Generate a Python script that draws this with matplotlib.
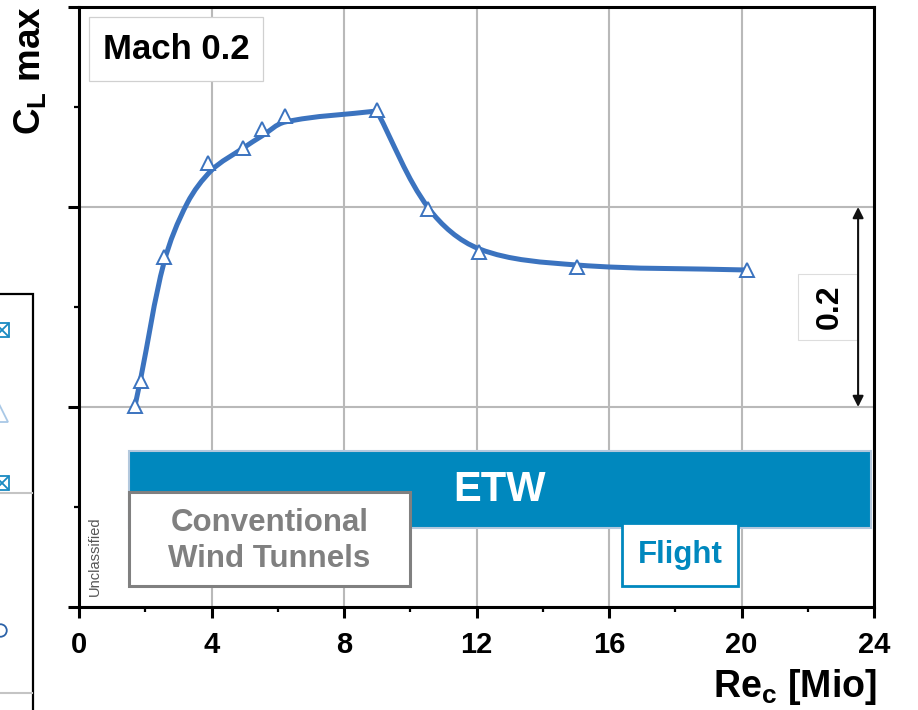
import numpy as np
import matplotlib
matplotlib.use('Agg')
import matplotlib.pyplot as plt
from matplotlib.path import Path
from matplotlib.patches import PathPatch, Rectangle
from matplotlib.lines import Line2D
from matplotlib.ticker import MultipleLocator, FixedLocator

plt.rcParams['font.family'] = ['Liberation Sans', 'DejaVu Sans']

# ---------------- data ----------------
# measured points (markers)
re_mio = [1.69, 1.86, 2.57, 3.90, 4.96, 5.52, 6.22, 8.99, 10.55, 12.09, 15.03, 20.16]
cl_max = [1.201, 1.226, 1.350, 1.444, 1.459, 1.478, 1.491, 1.497, 1.398, 1.355, 1.340, 1.337]
trend_re = [1.69, 1.86, 2.57, 3.27, 4.01, 4.96, 5.52, 6.22, 8.99, 10.55, 12.09, 15.03, 20.16]
trend_cl = [1.201, 1.228, 1.345, 1.404, 1.437, 1.459, 1.471, 1.485, 1.496, 1.399, 1.358, 1.342, 1.337]
trend_peak_index = 8

x_ticks = [0, 4, 8, 12, 16, 20, 24]
x_tick_labels = ['0', '4', '8', '12', '16', '20', '24']
y_major = [1.0, 1.2, 1.4, 1.6]
y_minor = [1.1, 1.3, 1.5]

etw_range = (1.5, 23.9, 1.079, 1.156)       # x0, x1, y0, y1
conv_range = (1.5, 10.0, 1.021, 1.115)
flight_range = (16.4, 19.9, 1.021, 1.084)
mach_box = (0.30, 5.55, 1.526, 1.590)
delta_box = (21.71, 23.49, 1.267, 1.333)
delta_x = 23.52
delta_span = (1.2, 1.4)

BLUE_LINE = '#3B73BF'
ETW_BLUE = '#0088BE'
GRAY = '#808080'

W, H = 918, 710
fig = plt.figure(figsize=(W / 100, H / 100), dpi=100)
ax = fig.add_axes([79 / W, 1 - 607 / H, (874 - 79) / W, (607 - 7) / H])

ax.set_xlim(0, 24)
ax.set_ylim(1.0, 1.6)
ax.xaxis.set_major_locator(FixedLocator(x_ticks))
ax.set_xticklabels(x_tick_labels)
ax.xaxis.set_minor_locator(MultipleLocator(2))
ax.yaxis.set_major_locator(FixedLocator(y_major))
ax.yaxis.set_minor_locator(FixedLocator(y_minor))
ax.set_yticklabels([])

for s in ax.spines.values():
    s.set_linewidth(2.2)
    s.set_color('black')
ax.tick_params(which='major', direction='out', length=8, width=2.2, color='black')
ax.tick_params(which='minor', direction='out', length=3.6, width=1.6, color='black')
ax.tick_params(axis='x', which='major', labelsize=21, pad=9)
for lab in ax.get_xticklabels():
    lab.set_fontweight('bold')
ax.tick_params(axis='y', which='both', right=False, top=False)
ax.tick_params(axis='x', which='both', top=False)

ax.grid(True, which='major', color='#b9b9b9', linewidth=1.5)
ax.set_axisbelow(True)


def smooth_path(xs, ys):
    """Bezier smoothing computed in screen space (tangent = neighbour chord,
    handle length = 1/3 of the adjacent segment)."""
    data = np.column_stack([xs, ys])
    pts = ax.transData.transform(data)
    n = len(pts)
    tang = np.zeros_like(pts)
    for i in range(n):
        a = pts[i - 1] if i > 0 else pts[i]
        b = pts[i + 1] if i < n - 1 else pts[i]
        d = b - a
        tang[i] = d / np.hypot(*d)
    verts = [pts[0]]
    codes = [Path.MOVETO]
    for i in range(n - 1):
        L = np.hypot(*(pts[i + 1] - pts[i]))
        c1 = pts[i] + tang[i] * L / 3.0
        c2 = pts[i + 1] - tang[i + 1] * L / 3.0
        verts += [c1, c2, pts[i + 1]]
        codes += [Path.CURVE4] * 3
    verts = ax.transData.inverted().transform(np.array(verts))
    return Path(verts, codes)


for seg in (slice(0, trend_peak_index + 1), slice(trend_peak_index, None)):
    p = smooth_path(trend_re[seg], trend_cl[seg])
    ax.add_patch(PathPatch(p, facecolor='none', edgecolor=BLUE_LINE, lw=3.6,
                           capstyle='round', joinstyle='round', zorder=4))
ax.plot(re_mio, cl_max, linestyle='none', marker='^', markersize=10.5,
        markerfacecolor='white', markeredgecolor=BLUE_LINE, markeredgewidth=1.4,
        zorder=5, clip_on=False)

# ---------------- bands ----------------
x0, x1, y0, y1 = etw_range
ax.add_patch(Rectangle((x0, y0), x1 - x0, y1 - y0, facecolor=ETW_BLUE,
                       edgecolor='#b3c8dd', lw=1.5, zorder=3))
ax.text((x0 + x1) / 2, (y0 + y1) / 2, 'ETW', color='white', fontsize=30,
        fontweight='bold', ha='center', va='center', zorder=6)

x0, x1, y0, y1 = conv_range
ax.add_patch(Rectangle((x0, y0), x1 - x0, y1 - y0, facecolor='white',
                       edgecolor=GRAY, lw=2.2, zorder=6))
ax.text((x0 + x1) / 2, (y0 + y1) / 2 - 0.002, 'Conventional\nWind Tunnels', color=GRAY,
        fontsize=22.5, fontweight='bold', ha='center', va='center',
        linespacing=1.25, zorder=7)

x0, x1, y0, y1 = flight_range
ax.add_patch(Rectangle((x0, y0), x1 - x0, y1 - y0, facecolor='white',
                       edgecolor=ETW_BLUE, lw=2.0, zorder=6))
ax.text((x0 + x1) / 2, (y0 + y1) / 2, 'Flight', color=ETW_BLUE,
        fontsize=22.5, fontweight='bold', ha='center', va='center', zorder=7)

# Mach box
x0, x1, y0, y1 = mach_box
ax.add_patch(Rectangle((x0, y0), x1 - x0, y1 - y0, facecolor='white',
                       edgecolor='#d0d0d0', lw=0.9, zorder=6))
ax.text((x0 + x1) / 2, (y0 + y1) / 2, 'Mach 0.2', color='black',
        fontsize=25, fontweight='bold', ha='center', va='center', zorder=7)

# delta 0.2 annotation
x0, x1, y0, y1 = delta_box
ax.add_patch(Rectangle((x0, y0), x1 - x0, y1 - y0, facecolor='white',
                       edgecolor='#dddddd', lw=0.8, zorder=6))
ax.text((x0 + x1) / 2 + 0.05, (y0 + y1) / 2, '0.2', color='black', rotation=90,
        fontsize=23, fontweight='bold', ha='center', va='center', zorder=7)
ax.annotate('', xy=(delta_x, delta_span[1]), xytext=(delta_x, delta_span[0]),
            arrowprops=dict(arrowstyle='<|-|>', color='#111111', lw=1.5,
                            shrinkA=0, shrinkB=0, mutation_scale=16),
            zorder=7)

# Unclassified marking
fig.text(95 / W, 1 - 596 / H, 'Unclassified', rotation=90, fontsize=10.5,
         color='#555555', ha='center', va='bottom')

# axis labels
fig.text(31 / W, 1 - 6 / H, r'C$_\mathregular{L}$ max', rotation=90, fontsize=26.5,
         fontweight='bold', ha='center', va='top')
fig.text(877 / W, 1 - 697 / H, r'Re$_\mathregular{c}$ [Mio]', fontsize=27,
         fontweight='bold', ha='right', va='baseline')

# ---------------- clipped legend at the left edge ----------------
fig.add_artist(Rectangle((-10 / W, -0.1), 43 / W, (710 - 294) / H + 0.1,
                         transform=fig.transFigure, facecolor='none',
                         edgecolor='black', lw=1.6))
for yy in (493, 693):
    fig.add_artist(Line2D([0, 32 / W], [1 - yy / H] * 2, transform=fig.transFigure,
                          color='#c4c4c4', lw=1.5))
for yy in (330, 483):
    for mk in ('s', 'x'):
        fig.add_artist(Line2D([2 / W], [1 - yy / H], transform=fig.transFigure,
                              marker=mk, markersize=10, markerfacecolor='none',
                              markeredgecolor='#1a8ac2', markeredgewidth=1.3,
                              linestyle='none'))
fig.add_artist(Line2D([-1 / W], [1 - 413 / H], transform=fig.transFigure,
                      marker='^', markersize=13, markerfacecolor='none',
                      markeredgecolor='#a9c8e6', markeredgewidth=1.3, linestyle='none'))
fig.add_artist(Line2D([0 / W], [1 - 630 / H], transform=fig.transFigure,
                      marker='o', markersize=9, markerfacecolor='none',
                      markeredgecolor='#2b62a8', markeredgewidth=1.3, linestyle='none'))

fig.savefig('out.png', dpi=100)
